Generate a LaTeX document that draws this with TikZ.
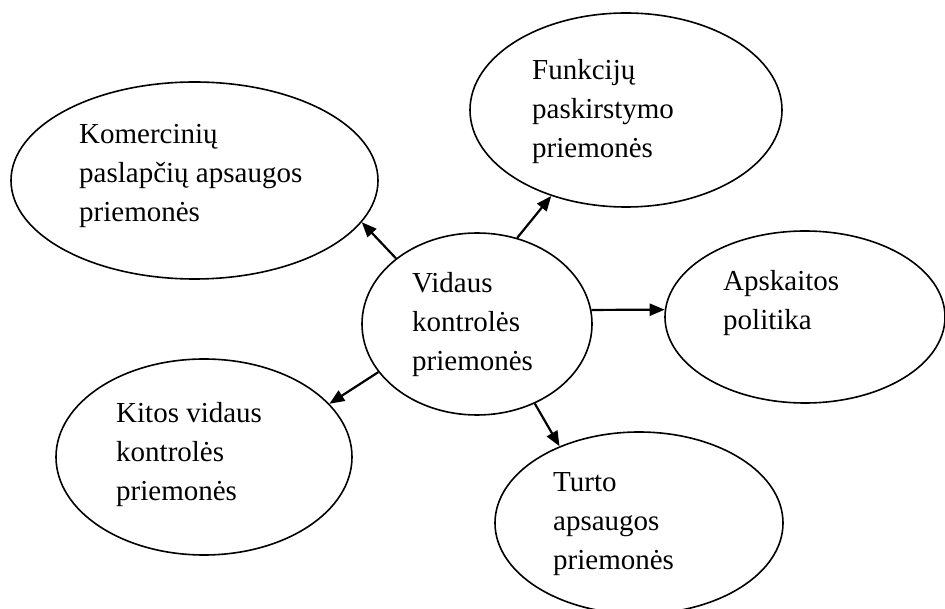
\documentclass[tikz,border=0pt]{standalone}
\usepackage{fontspec}
\setmainfont{Liberation Serif}
\usetikzlibrary{shapes.geometric,arrows.meta}

% left-aligned block of lines whose baseline is the first line
\newcommand\blocklines[1]{\begin{tabular}[t]{@{}l@{}}#1\end{tabular}}

\begin{document}
\begin{tikzpicture}[x=1pt,y=1pt,
  bubble/.style={ellipse,draw,line width=1.6pt,inner sep=0pt},
  label/.style={anchor=base west,inner sep=0pt,
    font=\fontsize{29}{39}\selectfont},
  link/.style={line width=2.2pt,-{Triangle[length=15pt,width=12pt]}}]
\useasboundingbox (0,0) rectangle (945,608);

% ellipses
\node[bubble,minimum width=230,minimum height=182] (c)  at (477,284)     {};
\node[bubble,minimum width=367,minimum height=197] (tl) at (194.5,427.5) {};
\node[bubble,minimum width=312,minimum height=194] (fn) at (626,498)     {};
\node[bubble,minimum width=280,minimum height=172] (ap) at (805,291)     {};
\node[bubble,minimum width=296,minimum height=196] (kt) at (204,151)     {};
\node[bubble,minimum width=288,minimum height=182] (tu) at (639,85)      {};

% texts
\node[label] (tc)  at (412,315) {\blocklines{Vidaus\\kontrolės\\priemonės}};
\node[label] (ttl) at (79,464)  {\blocklines{Komercinių\\paslapčių apsaugos\\priemonės}};
\node[label] (tfn) at (532,528) {\blocklines{Funkcijų\\paskirstymo\\priemonės}};
\node[label] (tap) at (723,317) {\blocklines{Apskaitos\\politika}};
\node[label] (tkt) at (116,185) {\blocklines{Kitos vidaus\\kontrolės\\priemonės}};
\node[label] (ttu) at (553,116) {\blocklines{Turto\\apsaugos\\priemonės}};

% arrows from the centre outwards
\draw[link] (c.141.8) -- (tl.-14.5);
\draw[link] (c.65.2)  -- (fn.-131.9);
\draw[link] (c.7)     -- (ap.177);
\draw[link] (c.206)   -- (kt.23.9);
\draw[link] (c.-54.7) -- (tu.136);
\end{tikzpicture}
\end{document}
